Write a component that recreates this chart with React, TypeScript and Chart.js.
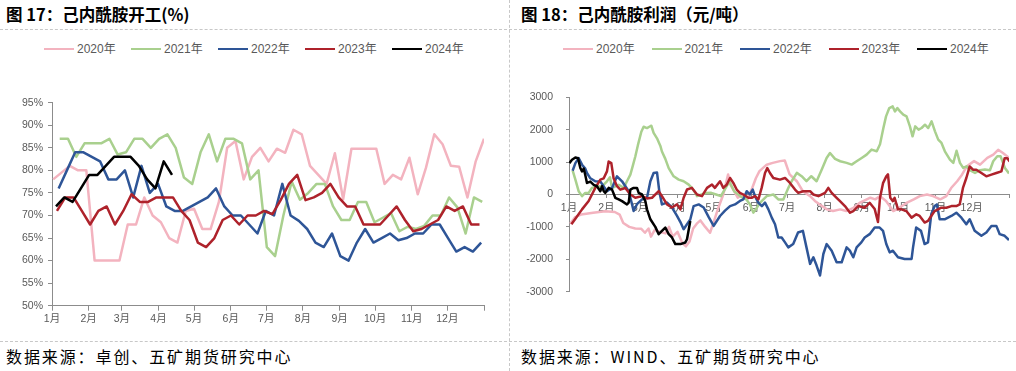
import React, { useEffect, useRef } from 'react';
import { Chart, registerables } from 'chart.js';

Chart.register(...registerables);

// ---------- shared ----------
const yearNames = ['2020年', '2021年', '2022年', '2023年', '2024年'];
const yearColors = ['#F3B3BF', '#A9D08E', '#2E5597', '#AE222B', '#000000'];
const monthStarts = [0, 31, 59, 90, 120, 151, 181, 212, 243, 273, 304, 334, 365];
const monthLabels = ['1月', '2月', '3月', '4月', '5月', '6月', '7月', '8月', '9月', '10月', '11月', '12月', ''];

// ---------- 图17 己内酰胺开工 (weekly, %) ----------
const rateTicks = [50, 55, 60, 65, 70, 75, 80, 85, 90, 95];
const rateStartDay = [1, 6.5, 5.6, 4.2, 3.4];
const rate2020 = [78, 79.5, 81, 80, 80, 60, 60, 60, 60, 68, 68, 74, 70, 68.5, 65, 64, 71, 71.5, 67, 67, 73, 85, 86.5, 78, 83, 85, 82, 84.8, 83.9, 89, 88, 81, 79, 77, 83.8, 73.6, 84.8, 84.8, 84.8, 84.8, 77, 79, 78, 82.8, 74.7, 80.6, 88, 85.8, 81, 80.8, 74, 82, 87];
const rate2021 = [87, 87, 83, 86, 86, 86, 87, 83.5, 84, 87, 87, 85, 87, 88, 85, 78.4, 77, 84, 88, 82, 87, 87, 86, 78, 80, 63, 61, 70, 77.5, 73.5, 75, 77, 77, 72, 69, 69, 73, 73, 68.5, 69.5, 70.5, 66.5, 67.5, 67, 67.7, 70, 70, 74, 71.8, 66, 74, 73];
const rate2022 = [76, 80, 84, 84, 83, 82, 78, 78, 80, 74, 81, 75, 77, 72, 71, 71, 72, 73, 74, 76, 72, 70, 70, 68, 66, 71, 70, 77, 70, 68.8, 67, 64, 63, 66, 61, 60, 64, 67, 64, 65, 66, 64.5, 65, 66, 66, 68, 68, 65, 62, 63, 62, 64];
const rate2023 = [71, 74, 74, 71, 68, 71, 72, 68, 71, 74.7, 73, 73, 74, 74, 74, 71, 69, 64, 63, 65, 69, 70, 68, 70, 70, 71, 70.3, 73.4, 77, 79, 73.4, 74, 75, 77, 74, 72, 72, 68, 68, 68, 70, 72, 69, 66.5, 67, 68, 69, 72, 71, 72, 68, 68];
const rate2024 = [72, 74, 73, 76, 79, 79, 81, 83, 83, 83, 81, 78, 76, 82, 79];
const rateSeries = [rate2020, rate2021, rate2022, rate2023, rate2024];

// ---------- 图18 己内酰胺利润 (元/吨), [day of year, value] ----------
const profitTicks = [-3000, -2000, -1000, 0, 1000, 2000, 3000];
const profit2020: [number, number][] = [
  [1, -900], [5, -700], [10, -620], [20, -560], [30, -520], [38, -540], [42, -620], [45, -880], [50, -1000], [55, -1050],
  [60, -1060], [63, -1180], [66, -1050], [68, -1300], [71, -1100], [75, -1150], [80, -1200], [83, -1000], [86, -1300], [90, -1150],
  [94, -1500], [97, -1600], [100, -1450], [103, -1050], [106, -900], [109, -800], [113, -1000], [117, -1180], [120, -850], [124, -400],
  [128, 0], [132, 620], [134, 300], [137, 100], [140, -100], [144, 0], [148, -150], [152, 200], [155, 500], [158, 720],
  [164, 920], [169, 975], [175, 1030], [179, 1050], [183, 620], [189, 410], [194, 100], [200, -50], [204, -200], [208, -310],
  [214, -460], [219, -510], [225, -460], [230, -510], [236, -410], [241, -260], [250, -100], [254, -150], [258, -50], [263, -200],
  [269, -510], [274, -410], [280, -260], [286, -150], [291, -50], [297, 0], [302, -50], [308, -150], [313, -50], [317, 200],
  [322, 410], [326, 610], [330, 870], [336, 1030], [341, 920], [347, 1130], [352, 1230], [356, 1380], [360, 1280], [365, 1130],
];
const profit2021: [number, number][] = [
  [3, 745], [5.3, 459], [8, 102], [10.8, -51], [13.5, 50], [16.3, 50], [19, 204], [24, 250], [27.4, 250], [31.5, 408],
  [34, 530], [35.7, 200], [38.4, 250], [41.2, 300], [45.4, 204], [48.1, 408], [50.9, 612], [52.8, 867], [55, 1173], [57.2, 1530],
  [60, 1938], [61.9, 2091], [64.7, 2050], [66.6, 2091], [68.3, 2122], [70.2, 1900], [73, 1734], [75.8, 1500], [77.1, 1326], [79.9, 1100],
  [82.7, 816], [86.8, 561], [91, 459], [95.1, 408], [99.3, 306], [102, 200], [104.8, 51], [106.2, -51], [110, 0], [114, 50],
  [118, 51], [122, 0], [126, -51], [130, 205], [133, 400], [137, 100], [142, -50], [147, -150], [150, -300], [153, -560],
  [156, -400], [158.4, -256], [164, -51], [169.5, 0], [173.6, -154], [177.8, -154], [182, 205], [184.7, 410], [189, 667], [193, 564],
  [197, 410], [201, 564], [205.4, 410], [209.6, 765], [213.7, 1128], [216.5, 1282], [220.7, 1100], [225, 1026], [230.3, 975], [234.5, 923],
  [238.6, 1026], [242.8, 1128], [246.9, 1231], [251, 1385], [255.3, 1334], [258, 1550], [260.8, 2052], [263, 2411], [265.7, 2668], [268.5, 2719],
  [270.4, 2565], [272.4, 2668], [274.6, 2565], [277.3, 2462], [280, 2411], [282.8, 2103], [285, 1795], [287.2, 2103], [290, 2000], [292.5, 2052],
  [295.3, 2154], [298, 2052], [300.8, 2257], [303.6, 1949], [306.3, 1693], [309, 1590], [311.8, 1334], [316, 1077], [318.8, 975], [321.5, 1350],
  [324.3, 975], [327, 820], [329.8, 872], [332.5, 750], [336.8, 667], [340.9, 750], [345, 770], [349.2, 750], [351.9, 1026], [355.3, 1180],
  [358, 1180], [361.6, 820], [365, 650],
];
const profit2022: [number, number][] = [
  [3, 734], [5.3, 969], [8, 1122], [10.8, 920], [13.5, 800], [14.9, 663], [17.7, 500], [21.8, 408], [26, 400], [28.8, 250],
  [31.5, 102], [35.7, 200], [39.8, 561], [44, 408], [49.5, 100], [52.3, -306], [53.6, -510], [56.4, -300], [60.6, -150], [64.7, -100],
  [67.5, 408], [70.2, 663], [73, 680], [74.9, 100], [77.1, -306], [81.3, -250], [85.4, -400], [89.6, -663], [92.4, -850], [95.1, -1071],
  [97.9, -920], [100.6, -770], [103.4, -357], [107.6, -306], [111.7, -400], [115.9, -700], [120, -969], [125.3, -663], [129.4, -500], [133.6, -357],
  [137.7, -306], [141.8, -200], [144.6, -150], [147.4, 102], [150, 0], [152.4, 153], [154.3, -50], [157, -250], [160, -357], [162.6, -250],
  [165.4, -459], [168.2, -714], [170.9, -918], [173.6, -1326], [176.4, -1326], [179.2, -1479], [181.9, -1632], [186, -1530], [190, -1173], [194, -1122],
  [197, -1632], [200, -2142], [202.7, -1938], [205.4, -2193], [208.2, -2499], [211, -1836], [213.7, -1530], [217.9, -1734], [222, -2091], [226.2, -2091],
  [230.3, -1632], [233, -1734], [235.8, -1938], [238.6, -1632], [242.5, -1479], [245.3, -1326], [249.4, -1224], [253.6, -1020], [257.7, -1020], [260.5, -1122],
  [263.2, -1530], [266, -1785], [268.7, -1734], [272.9, -1938], [278.4, -1989], [284.2, -1989], [285.4, -1632], [288, -1020], [292, -1122], [295, -1530],
  [297.8, -1479], [300.5, -612], [303.3, -357], [305.2, -306], [307.5, -765], [311.6, -765], [317.2, -663], [321.3, -561], [325.5, -714], [329.6, -918],
  [332.4, -765], [336.5, -1122], [342.1, -1275], [346.2, -1173], [350.4, -969], [354.5, -969], [357.3, -1224], [361.4, -1275], [365, -1408],
];
const profit2023: [number, number][] = [
  [2, -918], [5.3, -750], [10.8, -459], [16.3, -200], [21.8, 204], [26, 459], [28.8, 500], [31.5, 714], [32.9, 1020], [35.1, 970],
  [37, 500], [39.8, 255], [42.6, 150], [46.7, 200], [50.9, 0], [55, -100], [60.6, -50], [64.7, -120], [68.9, -100], [74.4, 102],
  [77.1, -50], [81.3, -306], [85.4, -400], [89.6, -306], [92.4, -459], [95.1, -100], [97.9, 153], [102, 204], [106.2, 0], [110.3, -50],
  [114.5, 204], [118.6, 306], [121, 204], [125.3, 408], [128, 204], [130.8, 300], [133.6, 510], [136.3, 357], [139.1, 153], [141.8, 51],
  [144.6, 0], [148.8, -102], [151.5, -102], [154.3, -51], [157.1, -153], [159.8, 204], [162.6, 663], [164.5, 816], [166.7, 663], [169.5, 510],
  [175, 459], [179.2, 510], [183.3, 357], [187.5, 153], [190.2, 51], [194.2, 102], [200, 102], [202.7, 0], [206.9, -51], [212.4, 51],
  [215.1, 204], [217.9, 51], [222, -102], [224.8, -204], [228.9, -357], [233.1, -561], [235.8, -510], [240, -357], [245.3, -408], [249.4, -255],
  [253.6, -450], [256.3, -850], [258, -100], [260.5, 350], [263.2, 560], [264.6, 620], [266.5, -100], [268.7, -204], [270.1, -102], [272.9, -459],
  [275.7, -459], [279.8, -510], [284.2, -714], [288.1, -612], [290.9, -663], [295, -867], [297.8, -816], [300.5, -663], [303.3, -510], [308.8, -408],
  [313, -408], [317.2, -357], [321.3, -357], [324.1, -306], [326.8, 204], [329.6, 510], [332.4, 867], [335.1, 765], [337.9, 765], [342.1, 663],
  [346.2, 561], [350.4, 612], [354.5, 663], [358.7, 714], [361.4, 1122], [363.6, 1122], [365.6, 1020],
];
const profit2024: [number, number][] = [
  [0.3, 969], [2.5, 1071], [5.3, 1142], [7.5, 1122], [9.4, 820], [10.8, 714], [12.2, 800], [13.5, 600], [14.9, 357], [17.7, 400],
  [20.5, 300], [23.2, 255], [26, 102], [27.4, 255], [28.8, 102], [30.1, 50], [32.9, 204], [35.7, 150], [38.4, -102], [41.2, -150],
  [44, -204], [48.1, -306], [49.5, -250], [50.9, 153], [53.6, 204], [56.4, 204], [57.8, 50], [60.6, 0], [63.3, -204], [64.7, -459],
  [67.5, -765], [71.6, -1000], [74.4, -1224], [77.1, -1122], [79.9, -1020], [82.7, -1224], [85.4, -1326], [88.2, -1530], [92.4, -1530], [96.5, -1480],
  [97.9, -1380], [100.6, -816],
];
const profitSeries = [profit2020, profit2021, profit2022, profit2023, profit2024];

// ---------- styling ----------
const AXIS = '#8C8C8C';
const TICK_TEXT = '#595959';
const TICK_FONT = { size: 10.5, family: "'Liberation Sans', 'Noto Sans CJK SC', sans-serif" };
const CJK = "'Noto Sans CJK SC', sans-serif";

function makeDatasets(points: { x: number; y: number }[][]) {
  return points.map((pts, i) => ({
    label: yearNames[i],
    data: pts,
    borderColor: yearColors[i],
    backgroundColor: yearColors[i],
    borderWidth: 2.5,
    pointRadius: 0,
    tension: 0,
    borderJoinStyle: 'round' as const,
    order: 5 - i,
  }));
}

function monthAxis(extra: any) {
  return {
    type: 'linear',
    min: 0,
    max: 365,
    afterBuildTicks: (axis: any) => {
      axis.ticks = monthStarts.map((v) => ({ value: v }));
    },
    border: { display: true, color: AXIS, width: 1 },
    ...extra,
  };
}

function leftConfig(): any {
  const pts = rateSeries.map((arr, s) => arr.map((v, i) => ({ x: rateStartDay[s] + 7 * i, y: v })));
  return {
    type: 'line',
    data: { datasets: makeDatasets(pts) },
    options: {
      responsive: false,
      animation: false,
      layout: { padding: { top: 12.7, right: 16, bottom: 0, left: 0 } },
      plugins: { legend: { display: false }, tooltip: { enabled: false } },
      scales: {
        x: monthAxis({
          afterFit: (a: any) => {
            a.height = 34.3;
          },
          grid: { display: true, drawOnChartArea: false, drawTicks: true, tickLength: 5, color: AXIS },
          ticks: {
            autoSkip: false,
            maxRotation: 0,
            padding: 2,
            color: TICK_TEXT,
            font: TICK_FONT,
            callback: (_v: any, idx: number) => monthLabels[idx],
          },
        }),
        y: {
          type: 'linear',
          min: 50,
          max: 95,
          afterBuildTicks: (axis: any) => {
            axis.ticks = rateTicks.map((v) => ({ value: v }));
          },
          afterFit: (a: any) => {
            a.width = 52;
          },
          ticks: { color: TICK_TEXT, font: TICK_FONT, padding: 5, callback: (v: any) => v + '%' },
          grid: { display: true, drawOnChartArea: false, drawTicks: true, tickLength: 4, color: AXIS },
          border: { display: true, color: AXIS, width: 1 },
        },
      },
    },
  };
}

function rightConfig(): any {
  const pts = profitSeries.map((arr) => arr.map(([d, v]) => ({ x: d, y: v })));
  return {
    type: 'line',
    data: { datasets: makeDatasets(pts) },
    options: {
      responsive: false,
      animation: false,
      layout: { padding: { top: 0, right: 7, bottom: 0, left: 0 } },
      plugins: { legend: { display: false }, tooltip: { enabled: false } },
      scales: {
        x: monthAxis({
          position: { y: 0 },
          grid: { display: true, drawOnChartArea: false, drawTicks: true, tickLength: 3, color: AXIS },
          ticks: {
            autoSkip: false,
            maxRotation: 0,
            padding: 4,
            color: TICK_TEXT,
            font: TICK_FONT,
            callback: (_v: any, idx: number) => monthLabels[idx],
          },
        }),
        y: {
          type: 'linear',
          min: -3000,
          max: 3000,
          afterBuildTicks: (axis: any) => {
            axis.ticks = profitTicks.map((v) => ({ value: v }));
          },
          afterFit: (a: any) => {
            a.width = 57;
          },
          ticks: { color: TICK_TEXT, font: TICK_FONT, padding: 13, callback: (v: any) => String(v) },
          grid: { display: true, drawOnChartArea: false, drawTicks: true, tickLength: 3, color: AXIS },
          border: { display: true, color: AXIS, width: 1 },
        },
      },
    },
  };
}

function Legend({ left, pitch }: { left: number; pitch: number }) {
  return (
    <>
      {yearNames.map((name, i) => (
        <div
          key={name}
          style={{
            position: 'absolute',
            left: left + i * pitch,
            top: 42,
            height: 14,
            display: 'flex',
            alignItems: 'center',
            whiteSpace: 'nowrap',
          }}
        >
          <div style={{ width: 30, height: 2.5, background: yearColors[i], marginRight: 3 }} />
          <span style={{ fontSize: 12, lineHeight: '14px', color: TICK_TEXT, fontFamily: "'Liberation Sans', 'Noto Sans CJK SC', sans-serif" }}>
            {name}
          </span>
        </div>
      ))}
    </>
  );
}

export default function App() {
  const leftRef = useRef<HTMLCanvasElement>(null);
  const rightRef = useRef<HTMLCanvasElement>(null);

  useEffect(() => {
    const c1 = new Chart(leftRef.current as HTMLCanvasElement, leftConfig());
    const c2 = new Chart(rightRef.current as HTMLCanvasElement, rightConfig());
    return () => {
      c1.destroy();
      c2.destroy();
    };
  }, []);

  const titleStyle: React.CSSProperties = {
    position: 'absolute',
    top: 4,
    fontFamily: CJK,
    fontWeight: 700,
    fontSize: 16.5,
    lineHeight: '20px',
    color: '#000',
    whiteSpace: 'nowrap',
  };
  const sourceStyle: React.CSSProperties = {
    position: 'absolute',
    top: 346,
    fontFamily: CJK,
    fontSize: 16,
    lineHeight: '20px',
    letterSpacing: 1.9,
    color: '#000',
    whiteSpace: 'nowrap',
  };

  return (
    <div
      style={{
        position: 'absolute',
        left: 0,
        top: 0,
        width: 1016,
        height: 371,
        background: '#fff',
        overflow: 'hidden',
      }}
    >
      {/* dashed frame lines */}
      <div style={{ position: 'absolute', left: 0, top: 29, width: 1016, height: 0, borderTop: '1px dashed #C8C8C8' }} />
      <div style={{ position: 'absolute', left: 0, top: 341, width: 1016, height: 0, borderTop: '1px dashed #C8C8C8' }} />
      <div style={{ position: 'absolute', left: 509, top: 0, width: 0, height: 371, borderLeft: '1px dashed #C8C8C8' }} />

      <div style={{ ...titleStyle, left: 6 }}>图 17：己内酰胺开工(%)</div>
      <div style={{ ...titleStyle, left: 521 }}>图 18：己内酰胺利润（元/吨）</div>

      <Legend left={44} pitch={87} />
      <Legend left={563} pitch={88.5} />

      <canvas
        ref={leftRef}
        width={500}
        height={250}
        style={{ position: 'absolute', left: 0, top: 90, width: 500, height: 250 }}
      />
      <canvas
        ref={rightRef}
        width={504}
        height={233}
        style={{ position: 'absolute', left: 512, top: 78, width: 504, height: 233 }}
      />

      <div style={{ ...sourceStyle, left: 6 }}>数据来源：卓创、五矿期货研究中心</div>
      <div style={{ ...sourceStyle, left: 521 }}>数据来源：WIND、五矿期货研究中心</div>
    </div>
  );
}
